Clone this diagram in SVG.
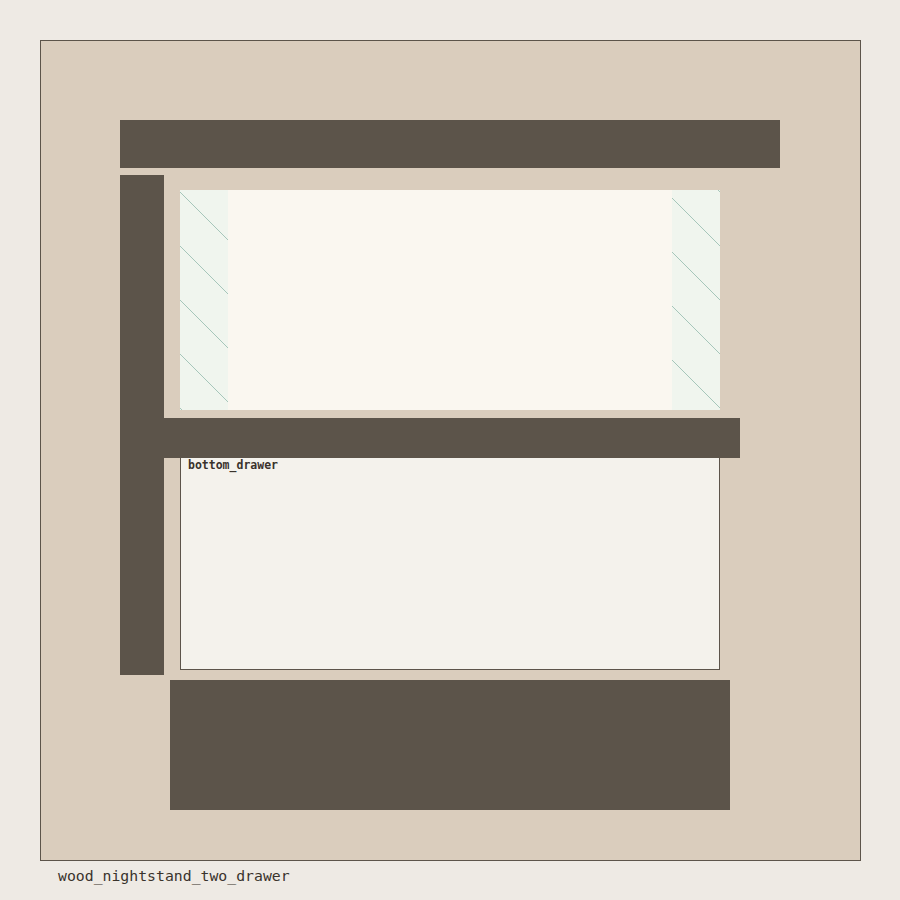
<svg xmlns="http://www.w3.org/2000/svg" width="900" height="900" viewBox="0 0 900 900">
<style>
.wood{fill:#5C544A}
.hatch{stroke:#A6C6BA;stroke-width:1}
.panel{fill:#F0F5EE}
.lbl{font-family:"DejaVu Sans Mono","Liberation Mono",monospace;fill:#3A332C}
</style>
<defs>
<clipPath id="cl"><rect x="180" y="190" width="48" height="220"/></clipPath>
<clipPath id="cr"><rect x="672" y="190" width="48" height="220"/></clipPath>
</defs>
<rect width="900" height="900" fill="#EEEAE4"/>
<g id="frame"><rect x="40.5" y="40.5" width="820" height="820" fill="#DACDBD" stroke="#5C544A" stroke-width="1"/></g>
<g id="top_board"><rect class="wood" x="120" y="120" width="660" height="48"/></g>
<g id="left_post"><rect class="wood" x="120" y="175" width="44" height="500"/></g>
<g id="top_drawer">
<rect x="180" y="190" width="540" height="220" rx="1.5" fill="#FAF7F0"/>
<rect class="panel" x="180" y="190" width="48" height="220"/>
<rect class="panel" x="672" y="190" width="48" height="220"/>
<g clip-path="url(#cl)" class="hatch">
<line x1="180" y1="192" x2="228" y2="240"/>
<line x1="180" y1="246" x2="228" y2="294"/>
<line x1="180" y1="300" x2="228" y2="348"/>
<line x1="180" y1="354" x2="228" y2="402"/>
<line x1="180" y1="408" x2="228" y2="456"/>
</g>
<g clip-path="url(#cr)" class="hatch">
<line x1="672" y1="144" x2="720" y2="192"/>
<line x1="672" y1="198" x2="720" y2="246"/>
<line x1="672" y1="252" x2="720" y2="300"/>
<line x1="672" y1="306" x2="720" y2="354"/>
<line x1="672" y1="360" x2="720" y2="408"/>
</g>
</g>
<g id="bottom_drawer">
<rect x="180.5" y="450.5" width="539" height="219" fill="#F4F2EC" stroke="#5C544A" stroke-width="1"/>
</g>
<g id="middle_shelf"><rect class="wood" x="164" y="418" width="576" height="40"/></g>
<text class="lbl" x="188" y="469" font-size="11.5" font-weight="bold">bottom_drawer</text>
<g id="base"><rect class="wood" x="170" y="680" width="560" height="130"/></g>
<text class="lbl" x="58" y="881" font-size="14.8">wood_nightstand_two_drawer</text>
</svg>
